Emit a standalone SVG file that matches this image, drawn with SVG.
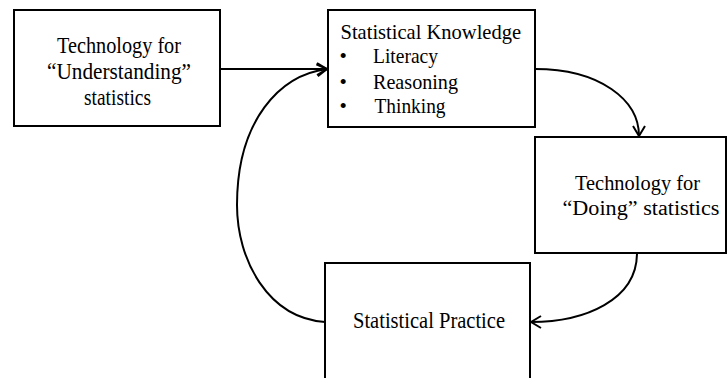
<svg xmlns="http://www.w3.org/2000/svg" width="728" height="378" viewBox="0 0 728 378">
<defs>
<marker id="arr" viewBox="0 0 12 14" refX="11" refY="7" markerWidth="12" markerHeight="14" markerUnits="userSpaceOnUse" orient="auto">
<path d="M1,1 L11,7 L1,13" fill="none" stroke="#000" stroke-width="2"/>
</marker>
<style>
.box{fill:#fff;stroke:#000;stroke-width:2}
.t{font-family:"Liberation Serif","Times New Roman",serif;fill:#000}
.c{text-anchor:middle}
.e{fill:none;stroke:#000;stroke-width:2;marker-end:url(#arr)}
</style>
</defs>
<g id="connectors">
<path class="e" d="M220,69 L327,69"/>
<path class="e" d="M535,69 C600,69 639,100 639,136"/>
<path class="e" d="M637,253 C637,300 585,322 531,322"/>
<path class="e" d="M325,322 C268,318 237,260 237,205 C237,120 280,75 327,69"/>
</g>
<g id="tech-understanding">
<rect class="box" x="14" y="10" width="206" height="116"/>
<text class="t c" font-size="23" x="119" y="52.7" textLength="124" lengthAdjust="spacingAndGlyphs">Technology for</text>
<text class="t c" font-size="23" x="119" y="79.3" textLength="144" lengthAdjust="spacingAndGlyphs">“Understanding”</text>
<text class="t c" font-size="23" x="117.5" y="105" textLength="67" lengthAdjust="spacingAndGlyphs">statistics</text>
</g>
<g id="knowledge">
<rect class="box" x="328" y="10" width="207" height="117"/>
<text class="t" font-size="21" x="340.5" y="38.7" textLength="180.6" lengthAdjust="spacingAndGlyphs">Statistical Knowledge</text>
<text class="t" font-size="21" x="339.5" y="63.3">•</text><text class="t" font-size="21" x="373" y="63.3" textLength="65" lengthAdjust="spacingAndGlyphs">Literacy</text>
<text class="t" font-size="21" x="339.5" y="88.5">•</text><text class="t" font-size="21" x="373" y="88.5" textLength="85" lengthAdjust="spacingAndGlyphs">Reasoning</text>
<text class="t" font-size="21" x="339.5" y="113">•</text><text class="t" font-size="21" x="374.5" y="113" textLength="71" lengthAdjust="spacingAndGlyphs">Thinking</text>
</g>
<g id="tech-doing">
<rect class="box" x="535" y="137" width="191" height="116"/>
<text class="t c" font-size="21.6" x="637.5" y="190.3" textLength="125" lengthAdjust="spacingAndGlyphs">Technology for</text>
<text class="t c" font-size="21.6" x="641" y="215.3" textLength="157" lengthAdjust="spacingAndGlyphs">“Doing” statistics</text>
</g>
<g id="practice">
<rect class="box" x="325" y="263" width="205" height="125"/>
<text class="t c" font-size="22.6" x="429" y="328.3" textLength="152" lengthAdjust="spacingAndGlyphs">Statistical Practice</text>
</g>
</svg>
